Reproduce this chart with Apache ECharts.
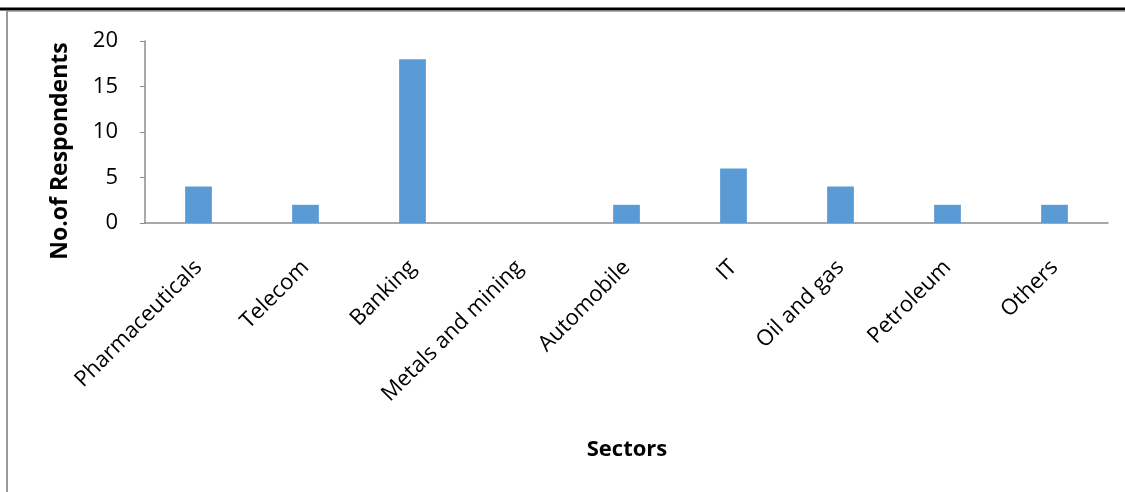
<!DOCTYPE html>
<html>
<head>
<meta charset="utf-8">
<script src="https://cdn.jsdelivr.net/npm/echarts@6/dist/echarts.min.js"></script>
<style>
  html, body { margin: 0; padding: 0; background: #fff; }
  #chart { width: 1125px; height: 492px; }
</style>
</head>
<body>
<div id="chart"></div>
<script>
// Survey respondents by industry sector
const sectors = ['Pharmaceuticals', 'Telecom', 'Banking', 'Metals and mining', 'Automobile', 'IT', 'Oil and gas', 'Petroleum', 'Others'];
const respondents = [4, 2, 18, 0, 2, 6, 4, 2, 2];
const yTicks = [0, 5, 10, 15, 20];

const FONT = '"Open Sans", "Liberation Sans", sans-serif';
const chart = echarts.init(document.getElementById('chart'), null, { renderer: 'canvas' });

chart.setOption({
  animation: false,
  backgroundColor: '#ffffff',
  grid: { left: 145, right: 17, top: 41, bottom: 269, containLabel: false },
  xAxis: {
    type: 'category',
    data: sectors,
    axisLine: { lineStyle: { color: '#8c8c8c', width: 1.5 } },
    axisTick: { show: false },
    axisLabel: { rotate: 45, color: '#000', fontFamily: FONT, fontSize: 22, margin: 41, interval: 0 }
  },
  yAxis: {
    type: 'value',
    min: yTicks[0],
    max: yTicks[yTicks.length - 1],
    interval: 5,
    axisLine: { show: true, lineStyle: { color: '#8c8c8c', width: 1.5 } },
    axisTick: { show: true, inside: false, length: 5, lineStyle: { color: '#8c8c8c' } },
    splitLine: { show: false },
    axisLabel: { color: '#000', fontFamily: FONT, fontSize: 22, margin: 27 }
  },
  series: [{
    type: 'bar',
    data: respondents,
    barWidth: '25%',
    itemStyle: { color: '#5b9bd5' }
  }],
  graphic: [
    { type: 'rect', shape: { x: 0, y: 7.5, width: 1125, height: 3 }, style: { fill: '#000' } },
    { type: 'line', shape: { x1: 6, y1: 11.5, x2: 1125, y2: 11.5 }, style: { stroke: '#b0b0b0', lineWidth: 1 } },
    { type: 'rect', shape: { x: 6, y: 11, width: 2, height: 481 }, style: { fill: '#9a9a9a' } },
    {
      type: 'text', x: 60, y: 151, rotation: Math.PI / 2,
      style: { text: 'No.of Respondents', fill: '#000', font: 'bold 23px ' + FONT, align: 'center', verticalAlign: 'middle' }
    },
    {
      type: 'text', x: 627, y: 450,
      style: { text: 'Sectors', fill: '#000', font: 'bold 22px ' + FONT, align: 'center', verticalAlign: 'middle' }
    }
  ]
});
</script>
</body>
</html>
